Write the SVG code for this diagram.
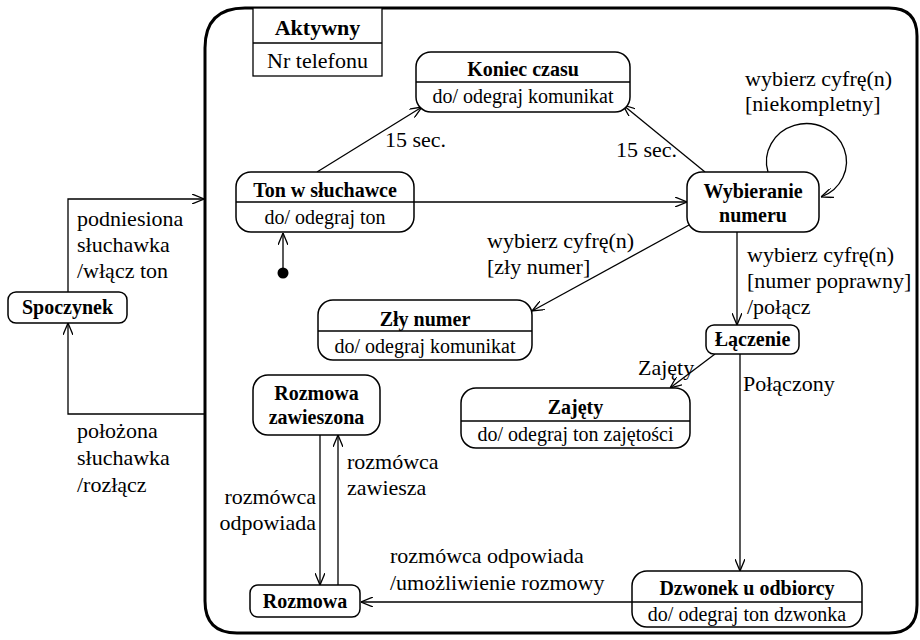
<svg xmlns="http://www.w3.org/2000/svg" width="920" height="640" viewBox="0 0 920 640">
  <style>
    .t { font-size: 20px; font-weight: bold; text-anchor: middle; }
    .b { font-size: 20px; text-anchor: middle; }
    .lbl { font-size: 22px; }
    .box { fill: #fff; stroke: #000; stroke-width: 1.5; }
    .div { stroke: #000; stroke-width: 1.3; }
    .edge { fill: none; stroke: #000; stroke-width: 1.3; marker-end: url(#arr); }
  </style>
  <defs>
    <marker id="arr" viewBox="0 0 12 10" refX="12" refY="5" markerWidth="12" markerHeight="10" markerUnits="userSpaceOnUse" orient="auto">
      <path d="M0,0 L12,5 L0,10" fill="none" stroke="#000" stroke-width="1.3"/>
    </marker>
  </defs>
  <rect width="920" height="640" fill="#fff"/>

  <g font-family="'Liberation Serif', 'Times New Roman', Times, serif" fill="#000">
  <!-- composite state "Aktywny" -->
  <g id="aktywny">
    <path d="M245,8 H889 Q917,8 917,36 V605 Q917,633 889,633 H237 Q205,633 205,601 V48 Q205,8 245,8 Z" fill="none" stroke="#000" stroke-width="3"/>
    <rect x="253" y="8" width="129" height="68" fill="#fff" stroke="#000" stroke-width="1.3"/>
    <line x1="253" y1="43" x2="382" y2="43" class="div"/>
    <text x="317.5" y="35" font-size="22" font-weight="bold" text-anchor="middle">Aktywny</text>
    <text x="317.5" y="68" font-size="22" text-anchor="middle">Nr telefonu</text>
  </g>

  <!-- connectors -->
  <g id="connectors">
    <!-- Spoczynek -> Aktywny -->
    <polyline class="edge" points="68,292 68,199 204,199"/>
    <!-- Aktywny -> Spoczynek -->
    <polyline class="edge" points="205,414 68,414 68,323"/>
    <!-- initial -> Ton -->
    <line class="edge" x1="283" y1="268" x2="283" y2="233" stroke-width="1.6"/>
    <!-- Ton -> Koniec czasu -->
    <line class="edge" x1="317" y1="172" x2="422" y2="107"/>
    <!-- Wybieranie -> Koniec czasu -->
    <line class="edge" x1="705" y1="172" x2="623" y2="105"/>
    <!-- Ton -> Wybieranie -->
    <line class="edge" x1="414" y1="202" x2="687" y2="202"/>
    <!-- self loop on Wybieranie -->
    <path class="edge" d="M768,172 A40,38 0 1 1 821,197"/>
    <!-- Wybieranie -> Zły numer -->
    <line class="edge" x1="689" y1="225" x2="532" y2="311"/>
    <!-- Wybieranie -> Łączenie -->
    <line class="edge" x1="737" y1="232" x2="737" y2="325"/>
    <!-- Łączenie -> Zajęty -->
    <line class="edge" x1="715" y1="354" x2="670" y2="388"/>
    <!-- Łączenie -> Dzwonek -->
    <line class="edge" x1="740" y1="354" x2="740" y2="571"/>
    <!-- Dzwonek -> Rozmowa -->
    <line class="edge" x1="632" y1="602" x2="361" y2="602"/>
    <!-- Rozmowa zawieszona -> Rozmowa -->
    <line class="edge" x1="320" y1="435" x2="320" y2="585"/>
    <!-- Rozmowa -> Rozmowa zawieszona -->
    <line class="edge" x1="338" y1="585" x2="338" y2="435"/>
  </g>

  <!-- transition labels -->
  <g id="labels" class="lbl">
    <text x="77" y="226">podniesiona</text>
    <text x="77" y="252">słuchawka</text>
    <text x="77" y="278">/włącz ton</text>
    <text x="77" y="438">położona</text>
    <text x="77" y="465">słuchawka</text>
    <text x="77" y="492">/rozłącz</text>
    <text x="385" y="147">15 sec.</text>
    <text x="616" y="157">15 sec.</text>
    <text x="745" y="86">wybierz cyfrę(n)</text>
    <text x="745" y="111">[niekompletny]</text>
    <text x="487" y="248">wybierz cyfrę(n)</text>
    <text x="487" y="274">[zły numer]</text>
    <text x="747" y="262">wybierz cyfrę(n)</text>
    <text x="747" y="288">[numer poprawny]</text>
    <text x="747" y="314">/połącz</text>
    <text x="638" y="375">Zajęty</text>
    <text x="743" y="391">Połączony</text>
    <text x="347" y="469">rozmówca</text>
    <text x="347" y="495">zawiesza</text>
    <text x="316" y="504" text-anchor="end">rozmówca</text>
    <text x="316" y="530" text-anchor="end">odpowiada</text>
    <text x="390" y="563">rozmówca odpowiada</text>
    <text x="390" y="590">/umożliwienie rozmowy</text>
  </g>

  <!-- states -->
  <g id="spoczynek">
    <rect class="box" x="8" y="292" width="119" height="31" rx="8"/>
    <text class="t" x="67.5" y="314">Spoczynek</text>
  </g>

  <g id="initial">
    <circle cx="283" cy="273" r="5.5" fill="#000"/>
  </g>

  <g id="koniec-czasu">
    <rect class="box" x="416" y="52" width="214" height="60" rx="15"/>
    <line class="div" x1="416" y1="82" x2="630" y2="82"/>
    <text class="t" x="523" y="76">Koniec czasu</text>
    <text class="b" x="523" y="103">do/ odegraj komunikat</text>
  </g>

  <g id="ton-w-sluchawce">
    <rect class="box" x="236" y="172" width="178" height="60" rx="15"/>
    <line class="div" x1="236" y1="202" x2="414" y2="202"/>
    <text class="t" x="325" y="197">Ton w słuchawce</text>
    <text class="b" x="325" y="224">do/ odegraj ton</text>
  </g>

  <g id="wybieranie-numeru">
    <rect class="box" x="687" y="172" width="132" height="60" rx="15"/>
    <text class="t" x="753" y="198">Wybieranie</text>
    <text class="t" x="753" y="222">numeru</text>
  </g>

  <g id="zly-numer">
    <rect class="box" x="318" y="300" width="214" height="60" rx="15"/>
    <line class="div" x1="318" y1="331" x2="532" y2="331"/>
    <text class="t" x="425" y="326">Zły numer</text>
    <text class="b" x="425" y="353">do/ odegraj komunikat</text>
  </g>

  <g id="laczenie">
    <rect class="box" x="706" y="325" width="93" height="29" rx="8"/>
    <text class="t" x="752.5" y="346">Łączenie</text>
  </g>

  <g id="zajety">
    <rect class="box" x="461" y="388" width="229" height="60" rx="15"/>
    <line class="div" x1="461" y1="421" x2="690" y2="421"/>
    <text class="t" x="575.5" y="414">Zajęty</text>
    <text class="b" x="575.5" y="441">do/ odegraj ton zajętości</text>
  </g>

  <g id="rozmowa-zawieszona">
    <rect class="box" x="253" y="375" width="127" height="60" rx="15"/>
    <text class="t" x="316.5" y="400">Rozmowa</text>
    <text class="t" x="316.5" y="424">zawieszona</text>
  </g>

  <g id="rozmowa">
    <rect class="box" x="250" y="585" width="110" height="32" rx="8"/>
    <text class="t" x="305" y="608">Rozmowa</text>
  </g>

  <g id="dzwonek-u-odbiorcy">
    <rect class="box" x="632" y="571" width="230" height="56" rx="15"/>
    <line class="div" x1="632" y1="602" x2="862" y2="602"/>
    <text class="t" x="747" y="595">Dzwonek u odbiorcy</text>
    <text class="b" x="747" y="621">do/ odegraj ton dzwonka</text>
  </g>
  </g>
</svg>
